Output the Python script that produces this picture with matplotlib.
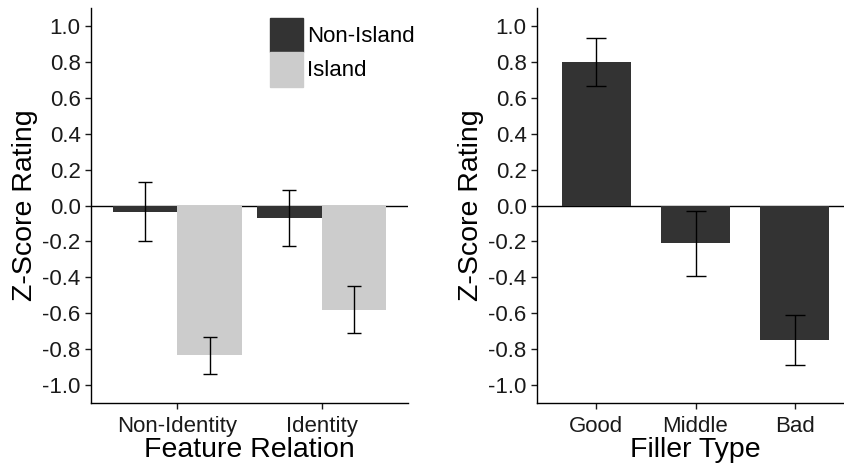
import numpy as np
import matplotlib.pyplot as plt
from matplotlib.patches import Patch

plt.rcParams["font.family"] = ["Liberation Sans", "DejaVu Sans"]

# datos panel izquierdo
relaciones = ["Non-Identity", "Identity"]
grupos = ["Non-Island", "Island"]
media_no_isla = [-0.035, -0.069]
error_no_isla = [0.165, 0.154]
media_isla = [-0.835, -0.58]
error_isla = [0.105, 0.13]

# datos panel derecho
tipos = ["Good", "Middle", "Bad"]
media_tipo = [0.80, -0.21, -0.75]
error_tipo = [0.135, 0.18, 0.14]

oscuro = "#333333"
claro = "#cccccc"
yticks = np.round(np.arange(-1.0, 1.01, 0.2), 1)
etiquetas_y = [f"{v:.1f}" if abs(v) > 1e-9 else "0.0" for v in yticks]

fig = plt.figure(figsize=(8.44, 4.69), dpi=100)
ax1 = fig.add_axes([91 / 844, 66 / 469, 317 / 844, 395 / 469])
ax2 = fig.add_axes([537 / 844, 66 / 469, 317 / 844, 395 / 469])


def estilo(ax, xlabel):
    ax.set_ylim(-1.1, 1.1)
    ax.set_yticks(yticks)
    ax.set_yticklabels(etiquetas_y)
    ax.axhline(0, color="black", lw=1, zorder=1)
    for lado in ["top", "right"]:
        ax.spines[lado].set_visible(False)
    for lado in ["left", "bottom"]:
        ax.spines[lado].set_linewidth(1)
    ax.tick_params(labelsize=16, colors="#1a1a1a", length=4, width=1)
    ax.tick_params(axis="x", pad=5)
    ax.set_ylabel("Z-Score Rating", fontsize=20.5, labelpad=3)
    ax.set_xlabel(xlabel, fontsize=20.5, labelpad=0)


# panel izquierdo
x = np.arange(1, len(relaciones) + 1)
ancho = 0.45
ax1.bar(x - ancho / 2, media_no_isla, ancho, color=oscuro, zorder=2)
ax1.bar(x + ancho / 2, media_isla, ancho, color=claro, zorder=2)
ax1.errorbar(x - ancho / 2, media_no_isla, yerr=error_no_isla, fmt="none",
             ecolor="black", elinewidth=1, capsize=5, capthick=1, zorder=3)
ax1.errorbar(x + ancho / 2, media_isla, yerr=error_isla, fmt="none",
             ecolor="black", elinewidth=1, capsize=5, capthick=1, zorder=3)
ax1.set_xlim(0.4, 2.6)
ax1.set_xticks(x)
ax1.set_xticklabels(relaciones)
estilo(ax1, "Feature Relation")
handles = [Patch(color=oscuro), Patch(color=claro)]
ax1.legend(handles, grupos, loc="upper left", bbox_to_anchor=(0.565, 0.975),
           frameon=False, fontsize=16, handlelength=1.5, handleheight=2.0,
           labelspacing=0, handletextpad=0.15, borderpad=0, borderaxespad=0)

# panel derecho
x2 = np.arange(1, len(tipos) + 1)
ax2.bar(x2, media_tipo, 0.7, color=oscuro, zorder=2)
ax2.errorbar(x2, media_tipo, yerr=error_tipo, fmt="none", ecolor="black",
             elinewidth=1, capsize=7, capthick=1, zorder=3)
ax2.set_xlim(0.4, 3.6)
ax2.set_xticks(x2)
ax2.set_xticklabels(tipos)
estilo(ax2, "Filler Type")

fig.savefig("out.png", dpi=100)
